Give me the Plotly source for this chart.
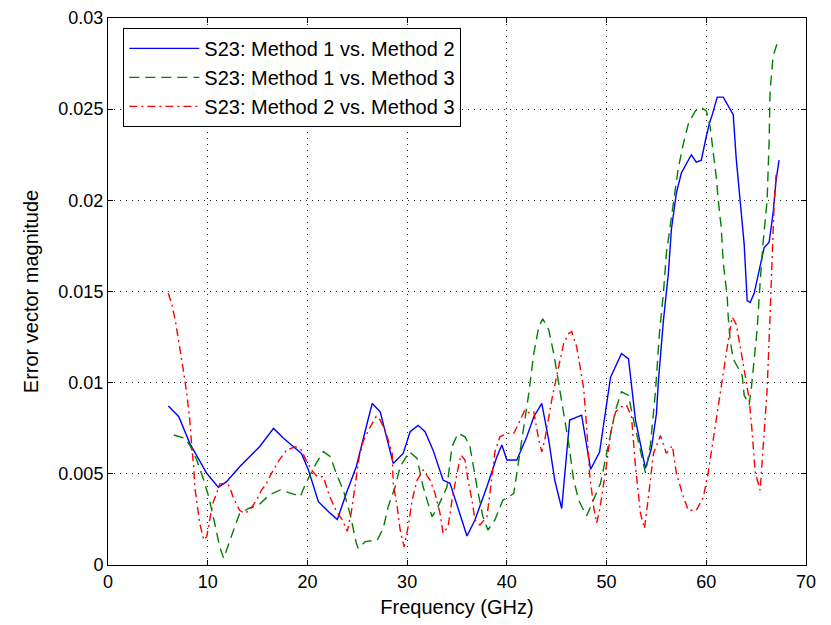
import plotly.graph_objects as go

# ---- data (values in units of 1e-3) ----
freq_m12 = [6.05, 7.1, 8.2, 9.9, 11.07, 11.9, 13.2, 15.2, 16.6, 17.6, 18.6, 19.4, 20.1, 21.1, 22.3, 23.0,
            23.9, 24.9, 25.9, 26.5, 27.3, 28.6, 29.6, 30.3, 31.1, 31.8, 32.6, 33.6, 34.3, 35.3, 36.0, 36.8,
            38.0, 39.0, 39.5, 40.0, 41.0, 42.0, 42.7, 43.5, 44.2, 44.8, 45.5, 46.3, 47.5, 48.4, 49.3, 50.4,
            51.5, 52.2, 52.9, 53.9, 54.5, 55.0, 55.2, 55.7, 56.2, 56.5, 57.0, 57.5, 58.0, 58.5, 59.0, 59.5,
            60.0, 60.3, 60.6, 61.1, 61.7, 62.2, 62.7, 63.0, 63.4, 63.6, 63.8, 64.1, 64.4, 64.8, 65.3, 65.8,
            66.3, 66.7, 67.0, 67.3]
evm_m12 = [8.72, 8.13, 6.67, 5.03, 4.26, 4.57, 5.39, 6.49, 7.49, 6.95, 6.49, 6.12, 5.21, 3.47, 2.83, 2.5,
           3.93, 5.39, 7.58, 8.86, 8.4, 5.57, 6.12, 7.31, 7.66, 7.31, 6.3, 4.66, 4.48, 2.83, 1.59, 2.47,
           4.29, 5.94, 6.58, 5.76, 5.76, 7.03, 8.13, 8.86, 6.85, 4.66, 3.1, 7.95, 8.22, 5.25, 6.2, 10.3,
           11.6, 11.3, 7.95, 5.3, 6.4, 8.3, 10.1, 13.4, 16.0, 18.4, 20.4, 21.5, 22.0, 22.5, 22.1, 22.2,
           23.5, 24.2, 24.7, 25.66, 25.66, 25.2, 24.7, 22.3, 20.0, 18.9, 17.6, 14.5, 14.4, 14.9, 16.2, 17.4,
           17.7, 19.3, 21.1, 22.2]

freq_m13 = [6.6, 7.7, 8.2, 8.9, 9.6, 10.1, 10.7, 11.2, 11.6, 12.1, 12.6, 13.2, 14.1, 15.1, 16.2, 17.3,
            18.3, 19.3, 19.8, 20.4, 20.9, 21.6, 22.3, 22.9, 23.6, 24.3, 24.9, 25.1, 25.8, 27.0, 27.6, 28.1,
            28.8, 29.3, 30.2, 31.0, 31.6, 32.5, 33.1, 34.0, 34.5, 35.1, 35.8, 36.3, 37.0, 37.6, 38.1, 38.8,
            39.3, 39.6, 40.2, 40.7, 41.2, 41.7, 42.2, 42.7, 43.2, 43.6, 44.2, 44.7, 45.2, 45.7, 46.2, 46.7,
            47.2, 47.7, 48.0, 48.4, 48.8, 49.4, 49.8, 50.4, 50.9, 51.5, 52.2, 52.6, 53.1, 53.9, 54.4, 54.9,
            55.3, 55.7, 56.0, 56.4, 56.7, 57.2, 57.7, 58.2, 58.9, 59.5, 60.0, 60.4, 60.7, 61.0, 61.2, 61.5,
            61.7, 62.1, 62.2, 62.4, 62.7, 63.0, 63.6, 63.8, 64.3, 64.5, 64.7, 65.1, 65.4, 65.7, 66.1, 66.3,
            66.4, 66.7, 67.1]
evm_m13 = [7.13, 6.95, 6.58, 5.76, 4.66, 3.74, 2.29, 1.0, 0.37, 1.19, 1.92, 2.83, 3.1, 3.29, 3.85, 4.12,
           3.93, 3.76, 4.44, 5.1, 5.6, 6.22, 5.94, 5.0, 4.1, 2.75, 1.2, 0.91, 1.28, 1.37, 2.0, 3.2,
           4.29, 5.39, 6.21, 5.85, 4.29, 2.65, 3.2, 4.29, 6.49, 7.22, 7.03, 6.49, 4.29, 2.65, 1.92, 2.47,
           3.2, 3.56, 3.74, 3.93, 5.76, 7.58, 9.41, 11.6, 13.06, 13.5, 12.9, 11.6, 9.96, 8.5, 6.67, 4.66,
           3.56, 3.0, 2.7, 3.2, 3.7, 4.5, 5.57, 7.22, 8.5, 9.5, 9.3, 8.2, 7.0, 5.05, 6.6, 9.5,
           12.7, 14.9, 17.1, 18.7, 20.0, 21.8, 23.1, 24.2, 24.9, 25.1, 24.9, 24.0, 22.6, 21.3, 20.0, 18.5,
           16.6, 14.7, 13.6, 12.3, 11.3, 11.0, 10.4, 9.3, 8.8, 9.6, 10.8, 12.9, 15.5, 17.7, 20.0, 23.2,
           26.0, 27.9, 28.6]

freq_m23 = [6.05, 6.4, 6.8, 7.2, 7.55, 7.9, 8.2, 8.4, 8.6, 8.7, 9.0, 9.2, 9.6, 9.9, 10.2, 10.5,
            10.9, 11.2, 11.9, 12.2, 12.6, 13.2, 13.7, 14.2, 14.9, 15.4, 15.9, 16.4, 17.1, 17.9, 18.8, 19.4,
            19.9, 20.5, 21.0, 21.6, 22.2, 22.9, 23.5, 24.0, 24.4, 24.8, 25.2, 25.6, 26.3, 26.9, 27.3, 27.9,
            28.5, 28.6, 29.0, 29.3, 29.7, 30.1, 30.5, 31.0, 31.6, 32.3, 32.8, 33.3, 33.6, 34.1, 34.5, 35.0,
            35.4, 35.8, 36.1, 36.5, 36.8, 37.3, 38.0, 38.3, 38.8, 39.3, 40.0, 40.7, 41.3, 41.8, 42.3, 42.7,
            43.2, 43.5, 43.8, 44.5, 45.2, 45.7, 46.2, 46.5, 47.0, 47.7, 48.0, 48.3, 48.7, 49.0, 49.3, 49.7,
            50.0, 50.4, 50.9, 51.5, 52.0, 52.5, 52.9, 53.4, 53.8, 54.2, 54.7, 55.4, 56.0, 56.6, 57.0, 57.7,
            58.2, 59.0, 59.7, 60.2, 60.7, 61.2, 61.7, 62.2, 62.6, 63.0, 63.4, 64.0, 64.3, 64.6, 64.9, 65.4,
            65.7, 66.1, 66.4, 66.6, 66.8, 67.0]
evm_m23 = [14.9, 14.3, 13.25, 11.97, 10.7, 9.41, 7.95, 6.49, 5.39, 4.29, 3.2, 2.29, 1.37, 1.55, 2.47, 3.38,
           3.93, 4.44, 4.51, 4.29, 3.65, 3.0, 2.83, 3.0, 3.56, 4.11, 4.48, 5.03, 5.7, 6.3, 6.49, 6.3,
           5.7, 5.15, 4.84, 4.84, 3.8, 2.95, 2.47, 1.85, 2.9, 4.4, 5.94, 6.8, 7.58, 8.15, 7.95, 7.22,
           6.12, 4.48, 3.2, 1.92, 1.0, 2.1, 3.56, 4.66, 5.21, 4.66, 3.93, 2.83, 1.74, 2.1, 3.56, 5.03,
           6.03, 5.76, 4.66, 3.56, 2.47, 2.19, 2.65, 3.93, 6.2, 7.03, 7.22, 7.22, 7.95, 8.5, 8.32, 8.4,
           6.85, 6.21, 6.85, 9.05, 10.9, 12.15, 12.7, 12.8, 11.97, 9.7, 7.58, 5.0, 3.2, 2.3, 3.0, 4.29,
           5.5, 7.22, 8.4, 8.68, 8.77, 8.13, 5.39, 2.83, 2.0, 3.74, 6.12, 7.1, 6.12, 6.55, 5.03, 3.74,
           3.0, 3.0, 3.7, 5.1, 6.9, 8.7, 10.7, 12.3, 13.6, 13.2, 12.0, 10.2, 9.1, 7.3, 5.1, 4.1,
           6.4, 9.6, 13.7, 16.4, 19.8, 21.4]

series_names = ["S23: Method 1 vs. Method 2", "S23: Method 1 vs. Method 3", "S23: Method 2 vs. Method 3"]
x_ticks = [0, 10, 20, 30, 40, 50, 60, 70]
y_ticks = [0, 0.005, 0.01, 0.015, 0.02, 0.025, 0.03]
y_tick_labels = ["0", "0.005", "0.01", "0.015", "0.02", "0.025", "0.03"]

FONT = "Liberation Sans, Arial, sans-serif"

fig = go.Figure()
styles = [("#0000ff", "solid"), ("#008000", "10px,6px"), ("#ff0000", "8px,4px,2px,4px")]
for name, xs, ys, (col, dash) in zip(series_names, [freq_m12, freq_m13, freq_m23],
                                     [evm_m12, evm_m13, evm_m23], styles):
    fig.add_trace(go.Scatter(x=xs, y=[v * 1e-3 for v in ys], mode="lines", name=name,
                             line=dict(color=col, width=1.4, dash=dash)))

axis_common = dict(showline=True, linecolor="black", linewidth=1, mirror="ticks",
                   ticks="inside", ticklen=5, tickcolor="black",
                   showgrid=True, gridcolor="#222222", griddash="1px,5px", gridwidth=1,
                   zeroline=False, tickfont=dict(family=FONT, size=18, color="black"))

fig.update_xaxes(range=[0, 70], tickvals=x_ticks, ticktext=[str(t) for t in x_ticks],
                 title=dict(text="Frequency (GHz)", font=dict(family=FONT, size=20, color="black"),
                            standoff=9),
                 **axis_common)
fig.update_yaxes(range=[0, 0.03], tickvals=y_ticks, ticktext=y_tick_labels,
                 title=dict(text="Error vector magnitude", font=dict(family=FONT, size=20, color="black"),
                            standoff=14),
                 **axis_common)

fig.update_layout(
    width=823, height=617,
    margin=dict(l=100, r=25, t=10, b=60, autoexpand=False),
    paper_bgcolor="white", plot_bgcolor="white",
    font=dict(family=FONT, size=18, color="black"),
    legend=dict(x=0.022, y=0.982, xanchor="left", yanchor="top",
                bgcolor="white", bordercolor="black", borderwidth=1,
                font=dict(family=FONT, size=20, color="black"),
                itemwidth=70, tracegroupgap=0),
    showlegend=True,
)

fig.write_html("out.html")
